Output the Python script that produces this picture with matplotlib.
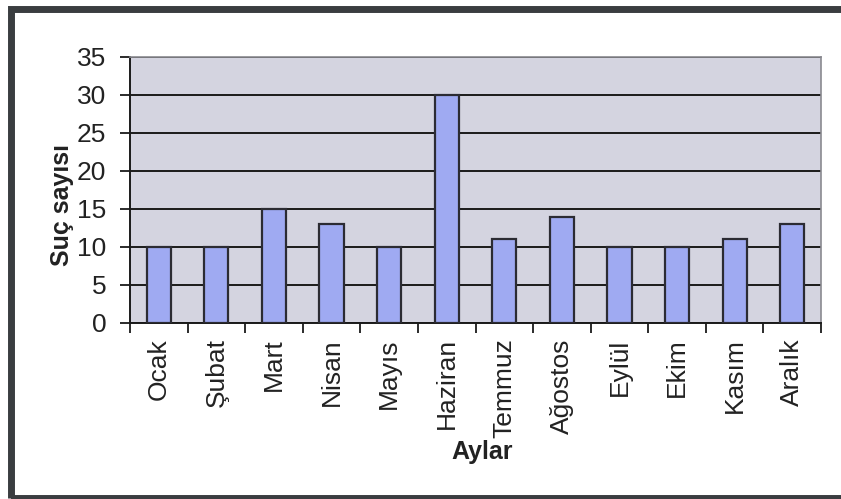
import matplotlib
matplotlib.use("Agg")
import matplotlib.pyplot as plt
from matplotlib.patches import Rectangle
import numpy as np

months = ["Ocak", "Şubat", "Mart", "Nisan", "Mayıs", "Haziran",
          "Temmuz", "Ağostos", "Eylül", "Ekim", "Kasım", "Aralık"]
counts = [10, 10, 15, 13, 10, 30, 11, 14, 10, 10, 11, 13]
yticks = [0, 5, 10, 15, 20, 25, 30, 35]

plt.rcParams['font.family'] = ['Liberation Sans', 'DejaVu Sans']

W, H = 841, 499
fig = plt.figure(figsize=(W / 100, H / 100), dpi=100)
fig.patch.set_facecolor('white')

# outer frame (right side runs off the picture)
frame = Rectangle((11 / W, (H - 497.5) / H), 1.2, (497.5 - 8.5) / H,
                  transform=fig.transFigure, fill=False,
                  edgecolor='#3a3d40', linewidth=5, zorder=0)
fig.patches.append(frame)

ax = fig.add_axes([130 / W, 1 - 323 / H, (821 - 130) / W, (323 - 57) / H])
ax.set_facecolor('#d4d4e0')

x = np.arange(len(months))
ax.bar(x, counts, width=0.42, color='#9faaf2', edgecolor='#2b2b33', linewidth=1.6, zorder=3)

ax.set_xlim(-0.5, len(months) - 0.5)
ax.set_ylim(0, 35)
ax.set_yticks(yticks)
ax.set_yticklabels([str(v) for v in yticks], fontsize=19, color='#222222')
ax.yaxis.grid(True, color='#1a1a1a', linewidth=1.4, zorder=1)
ax.set_axisbelow(True)

ax.set_xticks(x)
ax.set_xticklabels(months, rotation=90, fontsize=19, color='#222222')
ax.tick_params(axis='x', length=0, pad=11)
ax.set_xticks(np.arange(-0.5, len(months)), minor=True)
ax.tick_params(axis='x', which='minor', length=7, width=1.3, direction='out', color='#1a1a1a')
ax.tick_params(axis='y', length=7, width=1.3, direction='out', color='#1a1a1a', pad=10)

for s in ['left', 'bottom']:
    ax.spines[s].set_color('#1a1a1a')
    ax.spines[s].set_linewidth(1.4)
for s in ['top', 'right']:
    ax.spines[s].set_color('#8a8a90')
    ax.spines[s].set_linewidth(1.2)

fig.text(62 / W, 1 - 205 / H, "Suç sayısı", rotation=90, fontsize=18, fontweight='bold',
         ha='center', va='center', color='#222222')
fig.text(482 / W, 1 - 452 / H, "Aylar", fontsize=18, fontweight='bold',
         ha='center', va='center', color='#222222')

fig.savefig("out.png", dpi=100)
